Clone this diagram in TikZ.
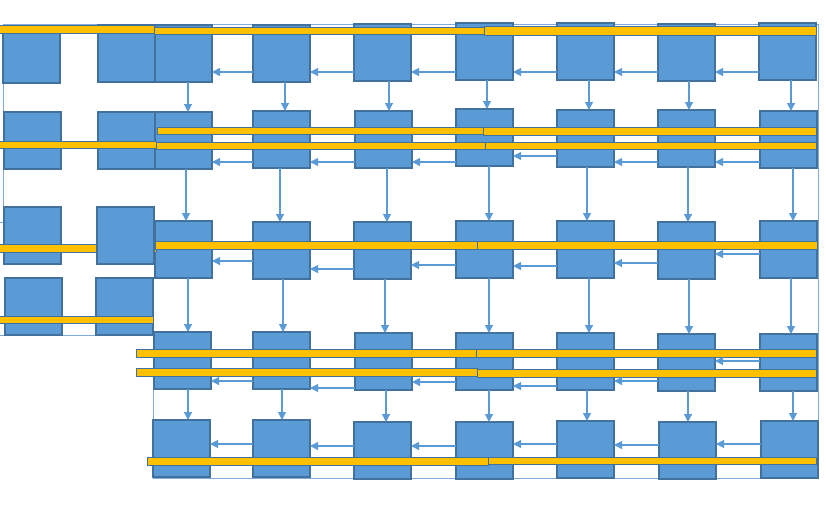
\documentclass[tikz,border=0pt]{standalone}
\usetikzlibrary{arrows.meta}
\definecolor{boxfill}{HTML}{5B9BD5}
\definecolor{boxline}{HTML}{41719C}
\definecolor{barfill}{HTML}{FFC000}
\definecolor{arrcol}{HTML}{5B9BD5}
\definecolor{framecol}{HTML}{7FAADC}
\tikzset{
  box/.style={draw=boxline, fill=boxfill, line width=1.1pt, minimum width=57pt, minimum height=57pt, inner sep=0pt, outer sep=0pt},
  bar/.style={draw=boxline, fill=barfill, line width=1pt},
  arr/.style={draw=arrcol, line width=1.1pt, -{Triangle[length=8pt,width=8pt]}},
  frame/.style={draw=framecol, line width=0.9pt}
}
\newcommand\bx[3]{\node[box] (#1) at ({#2+28.5},{#3+28.5}) {};}
\begin{document}
\begin{tikzpicture}[x=1pt,y=-1pt]
\useasboundingbox (0,0) rectangle (826,507);
% frame lines
\draw[frame] (3,24) -- (818,24) -- (818,478) -- (153,478) -- (153,335) -- (-2,335);
\draw[frame] (3,24) -- (3,222) -- (-2,222);
% left grid
\bx{a1}{3}{26} \bx{b1}{98}{25}
\bx{a2}{4}{112} \bx{b2}{98}{112}
\bx{a3}{4}{207}
\bx{a4}{5}{278} \bx{b4}{96}{278}
% main grid
\bx{r1c1}{155}{25} \bx{r1c2}{253}{25} \bx{r1c3}{354}{24} \bx{r1c4}{456}{23} \bx{r1c5}{557}{23} \bx{r1c6}{658}{24} \bx{r1c7}{759}{23}
\bx{r2c1}{155}{112} \bx{r2c2}{253}{111} \bx{r2c3}{355}{111} \bx{r2c4}{456}{109} \bx{r2c5}{557}{110} \bx{r2c6}{658}{110} \bx{r2c7}{760}{111}
\bx{r3c1}{155}{221} \bx{r3c2}{253}{222} \bx{r3c3}{354}{222} \bx{r3c4}{456}{221} \bx{r3c5}{557}{221} \bx{r3c6}{658}{222} \bx{r3c7}{760}{221}
\bx{r4c1}{154}{332} \bx{r4c2}{253}{332} \bx{r4c3}{355}{333} \bx{r4c4}{456}{333} \bx{r4c5}{557}{333} \bx{r4c6}{658}{334} \bx{r4c7}{760}{334}
\bx{r5c1}{153}{420} \bx{r5c2}{253}{420} \bx{r5c3}{354}{422} \bx{r5c4}{456}{422} \bx{r5c5}{557}{421} \bx{r5c6}{659}{422} \bx{r5c7}{761}{421}
% bars
\draw[bar] (-5,25) rectangle (154,33);
\draw[bar] (154,27) rectangle (485,34);
\draw[bar] (484,26) rectangle (816,35);
\draw[bar] (157,127) rectangle (484,134);
\draw[bar] (483,127) rectangle (816,135);
\draw[bar] (-5,141) rectangle (156,148);
\draw[bar] (156,142) rectangle (485,149);
\draw[bar] (485,142) rectangle (816,149);
\draw[bar] (-5,244) rectangle (156,252);
\draw[bar] (155,241) rectangle (477,249);
\draw[bar] (477,241) rectangle (817,249);
\draw[bar] (-5,316) rectangle (153,323);
\draw[bar] (136,349) rectangle (477,357);
\draw[bar] (476,349) rectangle (816,357);
\draw[bar] (136,368) rectangle (477,376);
\draw[bar] (477,369) rectangle (816,377);
\draw[bar] (147,457) rectangle (488,465);
\draw[bar] (488,457) rectangle (816,464);
% box above the bar
\bx{b3}{97}{207}
% horizontal arrows
\foreach \r/\ya/\yb/\yc/\yd/\ye/\yf in {1/72/72/72/72/72/72, 2/162/162/162/156/162/162, 3/261/269/265/266/263/254, 4/381/388/382/386/381/361, 5/444/446/446/444/445/444}{
  \draw[arr] (r\r c2.west |- 0,\ya) -- (r\r c1.east |- 0,\ya);
  \draw[arr] (r\r c3.west |- 0,\yb) -- (r\r c2.east |- 0,\yb);
  \draw[arr] (r\r c4.west |- 0,\yc) -- (r\r c3.east |- 0,\yc);
  \draw[arr] (r\r c5.west |- 0,\yd) -- (r\r c4.east |- 0,\yd);
  \draw[arr] (r\r c6.west |- 0,\ye) -- (r\r c5.east |- 0,\ye);
  \draw[arr] (r\r c7.west |- 0,\yf) -- (r\r c6.east |- 0,\yf);
}
% vertical arrows
\foreach \r/\s/\xa/\xb/\xc/\xd/\xe/\xf/\xg in {1/2/188/285/389/487/589/689/791, 2/3/186/280/387/489/587/688/793, 3/4/188/283/385/489/589/689/791, 4/5/188/282/386/489/587/688/793}{
  \draw[arr] (r\r c1.south -| \xa,0) -- (r\s c1.north -| \xa,0);
  \draw[arr] (r\r c2.south -| \xb,0) -- (r\s c2.north -| \xb,0);
  \draw[arr] (r\r c3.south -| \xc,0) -- (r\s c3.north -| \xc,0);
  \draw[arr] (r\r c4.south -| \xd,0) -- (r\s c4.north -| \xd,0);
  \draw[arr] (r\r c5.south -| \xe,0) -- (r\s c5.north -| \xe,0);
  \draw[arr] (r\r c6.south -| \xf,0) -- (r\s c6.north -| \xf,0);
  \draw[arr] (r\r c7.south -| \xg,0) -- (r\s c7.north -| \xg,0);
}
\end{tikzpicture}
\end{document}
